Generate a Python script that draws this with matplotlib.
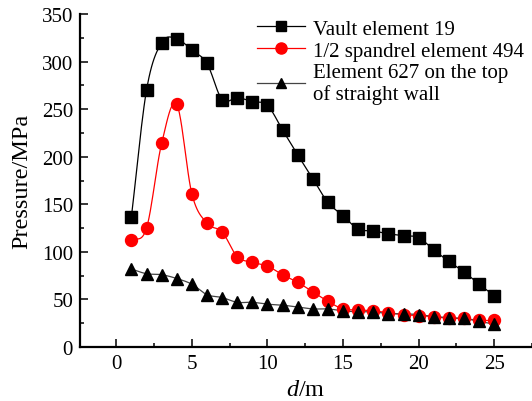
import numpy as np
import matplotlib
matplotlib.use('Agg')
import matplotlib.pyplot as plt
from matplotlib.ticker import MultipleLocator

plt.rcParams['font.family'] = ['Liberation Serif', 'DejaVu Serif']
plt.rcParams['mathtext.fontset'] = 'custom'
plt.rcParams['mathtext.it'] = 'Liberation Serif:italic'
plt.rcParams['mathtext.rm'] = 'Liberation Serif'

# distance along section (m)
d = list(range(1, 26))

vault_19 = [137, 270, 320, 324, 312, 298, 260, 262, 258, 254, 228, 202, 177,
            152, 138, 124, 122, 119, 117, 115, 102, 90, 79, 66, 54]
spandrel_494 = [112, 125, 214, 255, 161, 130, 121, 95, 89, 85, 76, 68, 58,
                48, 40, 39, 38, 36, 34, 33, 32, 30, 30, 28, 28]
wall_627 = [82, 77, 76, 72, 66, 55, 52, 47, 47, 45, 44, 42, 40,
            40, 38, 37, 37, 35, 35, 34, 32, 31, 30, 27, 24]

labels = ['Vault element 19', '1/2 spandrel element 494',
          'Element 627 on the top\nof straight wall']


def smooth(x, y, n=12):
    # catmull-rom curve through the points, like origin's spline line
    x = np.asarray(x, float)
    y = np.asarray(y, float)
    px = np.concatenate([[2 * x[0] - x[1]], x, [2 * x[-1] - x[-2]]])
    py = np.concatenate([[2 * y[0] - y[1]], y, [2 * y[-1] - y[-2]]])
    t = np.linspace(0, 1, n, endpoint=False)
    xs, ys = [], []
    for i in range(1, len(px) - 2):
        for p, out in ((px, xs), (py, ys)):
            p0, p1, p2, p3 = p[i - 1], p[i], p[i + 1], p[i + 2]
            out.extend(0.5 * ((2 * p1) + (-p0 + p2) * t
                              + (2 * p0 - 5 * p1 + 4 * p2 - p3) * t ** 2
                              + (-p0 + 3 * p1 - 3 * p2 + p3) * t ** 3))
    xs.append(x[-1])
    ys.append(y[-1])
    return xs, ys


fig = plt.figure(figsize=(5.32, 4.02), dpi=100)
ax = fig.add_axes([0.1504, 0.1343, 0.8496, 0.8284])

series = [
    (vault_19, 'black', 's', 'black', 8, 7),
    (spandrel_494, 'red', 'o', 'red', 8.6, 8),
    (wall_627, '#444444', '^', 'black', 8, 6.5),
]
for vals, lc, mk, mc, ms, lms in series:
    sx, sy = smooth(d, vals)
    ax.plot(sx, sy, color=lc, lw=0.9, zorder=2)
    ax.plot(d, vals, ls='none', marker=mk, color=mc, ms=ms, zorder=3)

# legend handles
handles = []
for vals, lc, mk, mc, ms, lms in series:
    h, = ax.plot([], [], color=lc, lw=0.9, marker=mk, mfc=mc, mec=mc, ms=lms)
    handles.append(h)
leg = fig.legend(handles, labels, loc='upper left',
                 bbox_to_anchor=(257 / 532, 1 - 20 / 402),
                 frameon=False, fontsize=15, handlelength=2.3,
                 handletextpad=0.4, labelspacing=0.12, borderpad=0,
                 borderaxespad=0)
for t in leg.get_texts():
    t.set_linespacing(1.12)

ax.set_xlim(-2.4, 27.5)
ax.set_ylim(0, 350)
ax.xaxis.set_major_locator(MultipleLocator(5))
ax.xaxis.set_minor_locator(MultipleLocator(2.5))
ax.yaxis.set_major_locator(MultipleLocator(50))
ax.yaxis.set_minor_locator(MultipleLocator(25))
ax.tick_params(which='both', direction='in', labelsize=15, width=1.1)
ax.tick_params(which='major', length=6, pad=5)
ax.tick_params(which='minor', length=3)
for s in ('top', 'right'):
    ax.spines[s].set_visible(False)
for s in ('left', 'bottom'):
    ax.spines[s].set_linewidth(1.6)

ax.set_xlabel('$d$/m', fontsize=17.5, labelpad=4)
ax.set_ylabel('Pressure/MPa', fontsize=17.5, labelpad=7)

fig.savefig('out.png', dpi=100)
